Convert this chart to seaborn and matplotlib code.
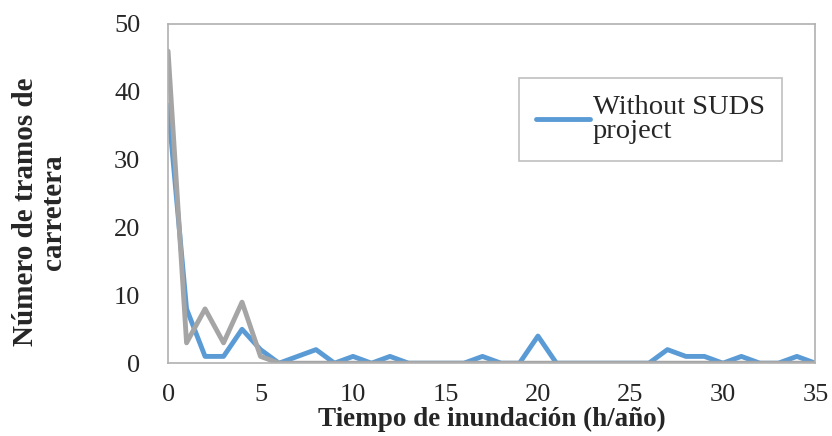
import seaborn as sns
import matplotlib.pyplot as plt
import pandas as pd

# values
tiempo = list(range(0, 36))
sin_suds = [38, 8, 1, 1, 5, 2, 0, 1, 2, 0, 1, 0, 1, 0, 0, 0, 0, 1,
            0, 0, 4, 0, 0, 0, 0, 0, 0, 2, 1, 1, 0, 1, 0, 0, 1, 0]
con_suds = [46, 3, 8, 3, 9, 1, 0, 0, 0, 0, 0, 0, 0, 0, 0, 0, 0, 0,
            0, 0, 0, 0, 0, 0, 0, 0, 0, 0, 0, 0, 0, 0, 0, 0, 0, 0]
series_names = ["Without SUDS\nproject", "With SUDS project"]

df = pd.DataFrame({"t": tiempo, "sin": sin_suds, "con": con_suds})

sns.set_style("white")
plt.rcParams['font.family'] = ['Liberation Serif', 'DejaVu Serif']

fig = plt.figure(figsize=(8.32, 4.36), dpi=100)
ax = fig.add_axes([0.202, 0.167, 0.778, 0.778])

sns.lineplot(data=df, x="t", y="sin", ax=ax, color="#5B9BD5", linewidth=3.5,
             label=series_names[0])
sns.lineplot(data=df, x="t", y="con", ax=ax, color="#A5A5A5", linewidth=3.5,
             label="_" + series_names[1])

ax.set_xlim(0, 35)
ax.set_ylim(0, 50)
ax.set_xticks(range(0, 36, 5))
ax.set_yticks(range(0, 51, 10))
ax.tick_params(axis="x", length=0, pad=15, labelsize=19)
ax.tick_params(axis="y", length=0, pad=20, labelsize=19)
for s in ax.spines.values():
    s.set_color("#B0B0B0")
    s.set_linewidth(1.2)

ax.set_xlabel("Tiempo de inundación (h/año)", fontsize=19.5, fontweight="bold")
ax.xaxis.set_label_coords(0.5, -0.13)
ax.set_ylabel("")
fig.text(0.047, 0.514, "Número de tramos de\ncarretera", rotation=90,
         ha="center", va="center", multialignment="center",
         fontsize=21, fontweight="bold", linespacing=1.05)

leg = ax.legend(loc="upper left", bbox_to_anchor=(0.542, 0.84),
                borderaxespad=0, fontsize=20.5, frameon=True, fancybox=False,
                handlelength=1.9, handletextpad=0.1, borderpad=0.6)
leg.get_frame().set_edgecolor("#B0B0B0")
leg.get_frame().set_linewidth(1.2)
for t in leg.get_texts():
    t.set_linespacing(0.95)

fig.savefig("out.png", dpi=100)
